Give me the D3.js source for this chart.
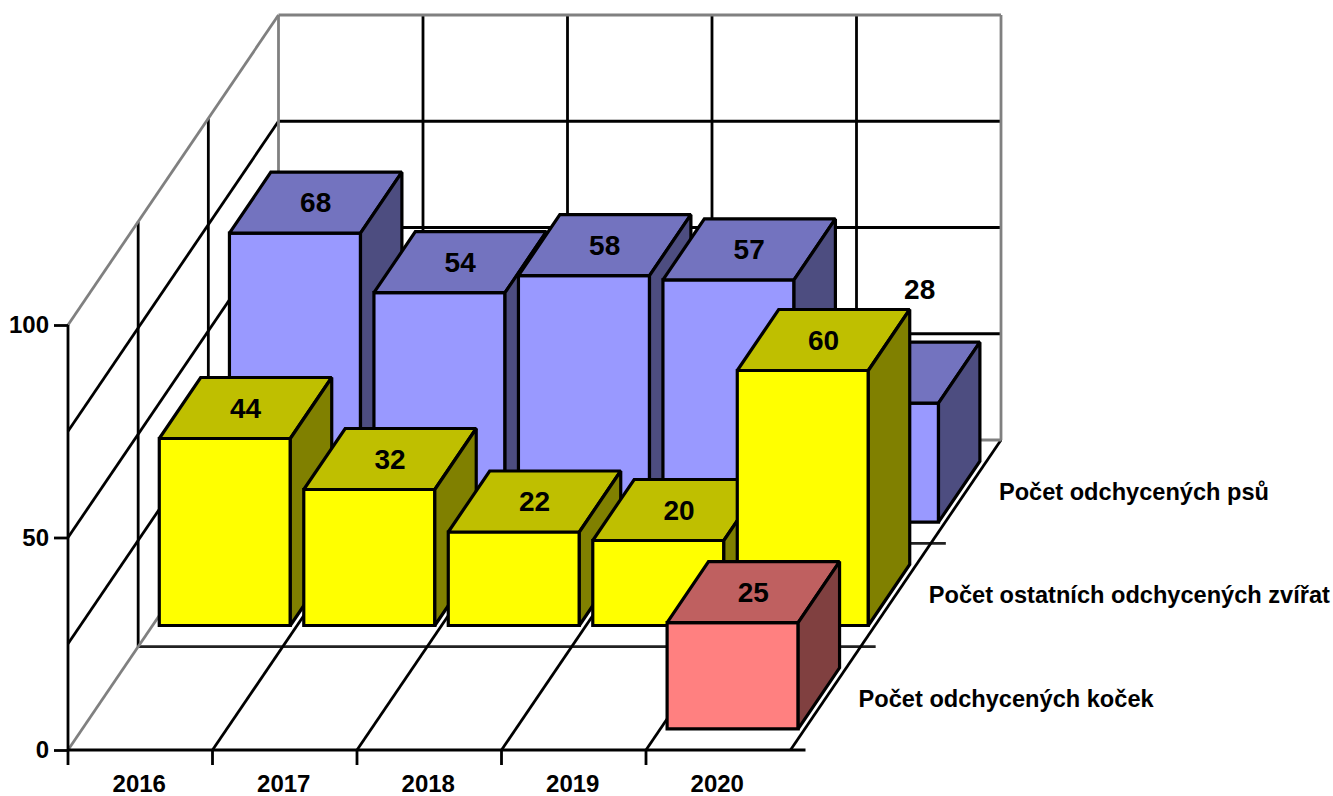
<!DOCTYPE html>
<html>
<head>
<meta charset="utf-8">
<script src="https://cdnjs.cloudflare.com/ajax/libs/d3/7.8.5/d3.min.js"></script>
<style>
	body { margin: 0; background: #fff; }
	text { font-family: "Liberation Sans", Arial, sans-serif; font-weight: bold; fill: #000; }
	.axis .domain { display: none; }
	.axis line { stroke: #000; stroke-width: 2.8; }
</style>
</head>
<body>
<div id="chart"></div>
<script>
// chart values, front row first
var years = ["2016", "2017", "2018", "2019", "2020"];
var seriesNames = ["Počet odchycených koček", "Počet ostatních odchycených zvířat", "Počet odchycených psů"];
var kocky = [null, null, null, null, 25];
var ostatni = [44, 32, 22, 20, 60];
var psi = [68, 54, 58, 57, 28];
var valueTicks = [0, 50, 100];
var gridValues = [25, 50, 75];
var faceColors = [
	{front: "#ff8080", top: "#bf6060", side: "#804040"},
	{front: "#ffff00", top: "#bfbf00", side: "#808000"},
	{front: "#9999ff", top: "#7373bf", side: "#4d4d80"}
];

var width = 1333,
	height = 796;

// the floor front edge and how far the depth axis shifts things
var originX = 68,
	originY = 750,
	floorWidth = 722.5,
	depthX = 210.5,
	depthY = -310,
	barDepth = 0.59 / 3,
	lineW = 2.8;

var xScale = d3.scaleLinear().domain([0, years.length]).range([originX, originX + floorWidth]);

var xBand = d3.scaleBand()
	.domain(years)
	.range([originX, originX + floorWidth])
	.paddingInner(0.093)
	.paddingOuter(0.0465);

var yScale = d3.scaleLinear().domain([0, 100]).range([originY, 325]);

// 0 is the front of the floor, 1 is the back wall
var zScale = d3.scaleLinear().domain([0, seriesNames.length]).range([0, 1]);

function px(x, z) { return x + z * depthX; }
function py(value, z) { return yScale(value) + z * depthY; }

var svg = d3.select("#chart").append("svg")
	.attr("width", width)
	.attr("height", height);

function drawLine(g, x1, y1, x2, y2, color) {
	g.append("line")
		.attr("x1", x1).attr("y1", y1)
		.attr("x2", x2).attr("y2", y2)
		.attr("stroke", color)
		.attr("stroke-width", lineW);
}

var grid = svg.append("g").attr("class", "grid");
var xMax = xScale.domain()[1];

// back wall
gridValues.forEach(function(v) {
	drawLine(grid, px(xScale(0), 1), py(v, 1), px(xScale(xMax), 1), py(v, 1), "#000");
	drawLine(grid, px(xScale(0), 0), py(v, 0), px(xScale(0), 1), py(v, 1), "#000");
});
d3.range(1, years.length).forEach(function(i) {
	drawLine(grid, px(xScale(i), 1), py(0, 1), px(xScale(i), 1), py(100, 1), "#000");
});

// side wall and floor rows
d3.range(1, seriesNames.length).forEach(function(i) {
	var z = zScale(i);
	drawLine(grid, px(xScale(0), z), py(0, z), px(xScale(0), z), py(100, z), "#000");
	drawLine(grid, px(xScale(0), z), py(0, z), px(xScale(xMax), z) + 15, py(0, z), "#222");
});

// floor lines running to the back
d3.range(1, years.length + 1).forEach(function(i) {
	drawLine(grid, px(xScale(i), 0), py(0, 0), px(xScale(i), 1), py(0, 1), "#000");
});

// grey frame
drawLine(grid, px(xScale(0), 0), py(0, 0), px(xScale(0), 1), py(0, 1), "#808080");
drawLine(grid, px(xScale(0), 0), py(100, 0), px(xScale(0), 1), py(100, 1), "#808080");
drawLine(grid, px(xScale(0), 1), py(0, 1), px(xScale(0), 1), py(100, 1), "#808080");
drawLine(grid, px(xScale(0), 1), py(100, 1), px(xScale(xMax), 1), py(100, 1), "#808080");
drawLine(grid, px(xScale(xMax), 1), py(0, 1), px(xScale(xMax), 1), py(100, 1), "#808080");
drawLine(grid, px(xScale(0), 1), py(0, 1), px(xScale(xMax), 1), py(0, 1), "#808080");

// front edge, value edge and the ticks
drawLine(grid, originX, py(0, 0), originX, py(100, 0), "#000");
drawLine(grid, originX, py(0, 0), xScale(xMax) + 15, py(0, 0), "#000");
d3.range(0, years.length).forEach(function(i) {
	drawLine(grid, xScale(i), originY, xScale(i), originY + 15, "#000");
});

var yAxis = d3.axisLeft(yScale)
	.tickValues(valueTicks)
	.tickSize(14)
	.tickPadding(5);

var yAxisG = svg.append("g")
	.attr("class", "y axis")
	.attr("transform", "translate(" + originX + ",0)")
	.call(yAxis);
yAxisG.selectAll("text").style("font-size", "24px").attr("dy", "0.33em");

var xAxis = d3.axisBottom(xBand).tickSize(0).tickPadding(25);

var xAxisG = svg.append("g")
	.attr("class", "x axis")
	.attr("transform", "translate(0," + originY + ")")
	.call(xAxis);
xAxisG.selectAll("text").style("font-size", "24px");
xAxisG.attr("transform", "translate(-1," + originY + ")");

// bars, back row first so the nearer ones cover them
var rows = [kocky, ostatni, psi];
var bars = svg.append("g").attr("class", "bars");

function quad(points) {
	return d3.line()(points) + "Z";
}

d3.range(rows.length - 1, -1, -1).forEach(function(r) {
	var z0 = zScale(r) + (zScale(1) - barDepth) / 2,
		z1 = z0 + barDepth;

	rows[r].forEach(function(v, i) {
		if (v === null) return;
		var x0 = xBand(years[i]),
			x1 = x0 + xBand.bandwidth(),
			bar = bars.append("g").attr("class", "bar");

		function face(points, fill) {
			bar.append("path")
				.attr("d", quad(points))
				.attr("fill", fill)
				.attr("stroke", "#000")
				.attr("stroke-width", 3.2)
				.attr("stroke-linejoin", "miter")
				.attr("stroke-miterlimit", 2);
		}

		face([[px(x0, z0), py(v, z0)], [px(x1, z0), py(v, z0)], [px(x1, z0), py(0, z0)], [px(x0, z0), py(0, z0)]], faceColors[r].front);
		face([[px(x0, z0), py(v, z0)], [px(x0, z1), py(v, z1)], [px(x1, z1), py(v, z1)], [px(x1, z0), py(v, z0)]], faceColors[r].top);
		face([[px(x1, z0), py(v, z0)], [px(x1, z1), py(v, z1)], [px(x1, z1), py(0, z1)], [px(x1, z0), py(0, z0)]], faceColors[r].side);
	});
});

// value labels go on top of every bar, in the middle of the top face
var labels = svg.append("g").attr("class", "labels");
rows.forEach(function(row, r) {
	var zMid = zScale(r) + zScale(1) / 2;
	row.forEach(function(v, i) {
		if (v === null) return;
		var lx = px(xBand(years[i]) + xBand.bandwidth() / 2, zMid),
			ly = py(v, zMid);
		// the last dog bar is hidden, so its label sits up in the clear
		if (r === 2 && i === 4) {
			lx += 26;
			ly -= 83;
		}
		labels.append("text")
			.attr("x", lx)
			.attr("y", ly)
			.attr("dy", "0.35em")
			.attr("text-anchor", "middle")
			.style("font-size", "28px")
			.text(v);
	});
});

// series names beside the floor
var names = svg.append("g").attr("class", "names");
seriesNames.forEach(function(name, r) {
	var zMid = zScale(r) + zScale(1) / 2;
	names.append("text")
		.attr("x", px(xScale(xMax), zMid) + 33)
		.attr("y", py(0, zMid))
		.attr("dy", "0.35em")
		.style("font-size", "23.6px")
		.text(name);
});
</script>
</body>
</html>
